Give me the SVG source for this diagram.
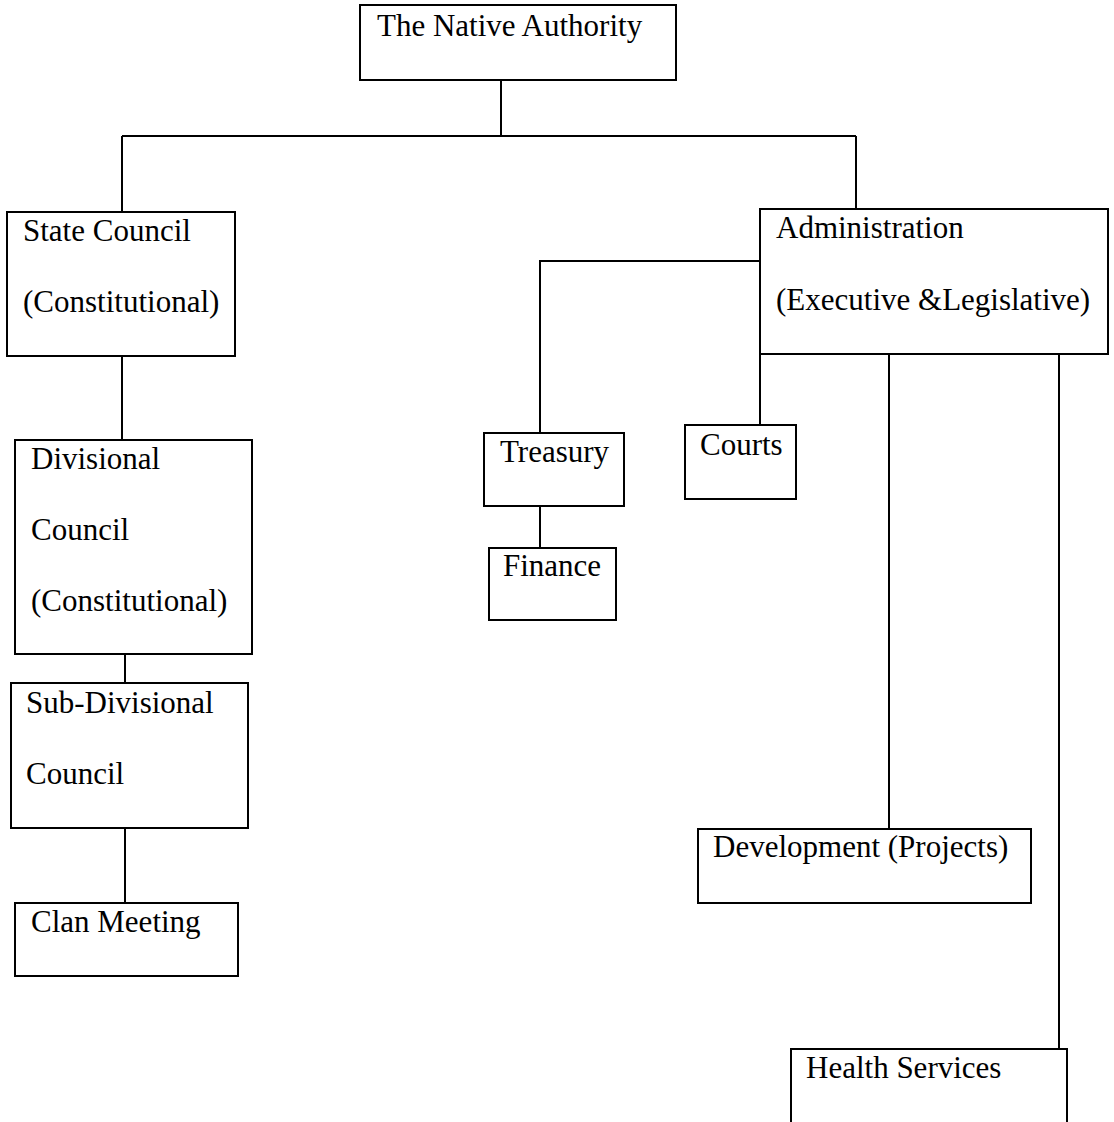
<svg xmlns="http://www.w3.org/2000/svg" width="1114" height="1122" viewBox="0 0 1114 1122">
<style>
.box{fill:#fff;stroke:#000;stroke-width:2}
.lbl{font-family:"Liberation Serif","Times New Roman",serif;font-size:31px;fill:#000}
.conn{fill:none;stroke:#000;stroke-width:2}
</style>
<rect width="1114" height="1122" fill="#fff"/>
<g id="connectors">
<path class="conn" d="M501,80V136M122,136H856M122,136V212M856,136V209"/>
<path class="conn" d="M122,356V440M125,654V683M125,828V903"/>
<path class="conn" d="M760,261H540V433M540,506V548"/>
<path class="conn" d="M760,354V425M889,354V829M1059,354V1049"/>
</g>
<g id="native-authority"><rect class="box" x="360" y="5" width="316" height="75"/><text class="lbl" x="377" y="36">The Native Authority</text></g>
<g id="state-council"><rect class="box" x="7" y="212" width="228" height="144"/><text class="lbl" x="23" y="241">State Council</text><text class="lbl" x="23" y="312">(Constitutional)</text></g>
<g id="divisional-council"><rect class="box" x="15" y="440" width="237" height="214"/><text class="lbl" x="31" y="469">Divisional</text><text class="lbl" x="31" y="540">Council</text><text class="lbl" x="31" y="611">(Constitutional)</text></g>
<g id="sub-divisional-council"><rect class="box" x="11" y="683" width="237" height="145"/><text class="lbl" x="26" y="713">Sub-Divisional</text><text class="lbl" x="26" y="784">Council</text></g>
<g id="clan-meeting"><rect class="box" x="15" y="903" width="223" height="73"/><text class="lbl" x="31" y="932">Clan Meeting</text></g>
<g id="administration"><rect class="box" x="760" y="209" width="348" height="145"/><text class="lbl" x="776" y="238">Administration</text><text class="lbl" x="776" y="310">(Executive &amp;Legislative)</text></g>
<g id="treasury"><rect class="box" x="484" y="433" width="140" height="73"/><text class="lbl" x="500" y="462">Treasury</text></g>
<g id="finance"><rect class="box" x="489" y="548" width="127" height="72"/><text class="lbl" x="503" y="576">Finance</text></g>
<g id="courts"><rect class="box" x="685" y="425" width="111" height="74"/><text class="lbl" x="700" y="455">Courts</text></g>
<g id="development"><rect class="box" x="698" y="829" width="333" height="74"/><text class="lbl" x="713" y="857">Development (Projects)</text></g>
<g id="health-services"><rect class="box" x="791" y="1049" width="276" height="90"/><text class="lbl" x="806" y="1078">Health Services</text></g>
</svg>
